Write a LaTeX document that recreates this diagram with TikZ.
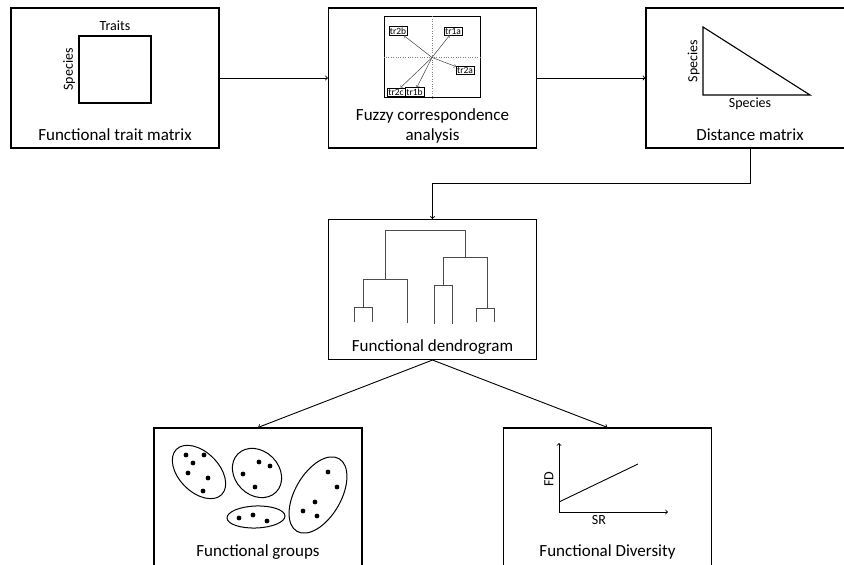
\documentclass[tikz,border=0pt]{standalone}
\usepackage{fontspec}
\setmainfont{Carlito}
\usetikzlibrary{positioning}
\tikzset{
  stage/.style={draw, line width=1.1pt, minimum width=208pt, minimum height=140pt, inner sep=0pt},
  stage text/.style={font=\fontsize{17}{20}\selectfont, align=center, text depth=0.25em, anchor=south},
  small text/.style={font=\fontsize{14}{16}\selectfont, text depth=0.2em},
  tiny label/.style={draw, line width=0.4pt, inner sep=1.1pt, font=\fontsize{9.5}{10}\selectfont, fill=white},
  flow/.style={->, line width=0.9pt},
  fuzzy arrow/.style={->, line width=0.5pt, black!75},
  tree/.style={line width=1pt, black!70},
  group/.style={line width=1pt},
}

\begin{document}
\begin{tikzpicture}[x=1pt,y=1pt]
\useasboundingbox (0,0) rectangle (844,565);
\clip (0,0) rectangle (844,565);
% the boxes
\node [stage] (ftm) at (115,487) {};
\node [stage] (fca) at (432.5,487) {};
\node [stage] (dm) at (750,487) {};
\node [stage] (dend) at (432.5,275.5) {};
\node [stage] (fg) at (258,67) {};
\node [stage] (fdiv) at (607.5,67) {};
% the box texts
\node [stage text] (ftmtxt) at ([yshift=2.5pt]ftm.south) {Functional trait matrix};
\node [stage text] (fcatxt) at ([yshift=2.5pt]fca.south) {Fuzzy correspondence\\analysis};
\node [stage text] (dmtxt) at ([yshift=2.5pt]dm.south) {Distance matrix};
\node [stage text] (dendtxt) at ([yshift=2.5pt]dend.south) {Functional dendrogram};
\node [stage text] (fgtxt) at ([yshift=6.5pt]fg.south) {Functional groups};
\node [stage text] (fdivtxt) at ([yshift=6.5pt]fdiv.south) {Functional Diversity};

% trait matrix
\node [draw, line width=1.1pt, minimum width=72pt, minimum height=67pt] (trmat) at (115,495.5) {};
\node [small text, above=-1pt of trmat] (traits) {Traits};
\node [small text, rotate=90, anchor=south] (trspecies) at (trmat.west) {Species};

% fuzzy correspondence plot
\node [draw, line width=1pt, minimum width=96pt, minimum height=81pt] (fcaplot) at (432,507.5) {};
\draw [dotted, gray] (fcaplot.north) -- (fcaplot.south);
\draw [dotted, gray] (fcaplot.west) -- (fcaplot.east);
\node [tiny label] (tr2b) at (398,534) {tr2b};
\node [tiny label] (tr1a) at (453,534) {tr1a};
\node [tiny label] (tr2a) at (465,495) {tr2a};
\node [tiny label] (tr2c) at (396,473) {tr2c};
\node [tiny label] (tr1b) at (414.5,473) {tr1b};
\foreach \lab in {tr2b,tr1a,tr2a,tr2c,tr1b}
  \draw [fuzzy arrow] (fcaplot.center) -- (\lab);

% distance matrix
\coordinate (dmtop) at (703,538);
\coordinate (dmcorner) at (703,470);
\coordinate (dmright) at (810,470);
\draw [line width=1.1pt] (dmtop) -- (dmcorner) -- (dmright) -- cycle;
\node [small text, rotate=90, anchor=south] (dmspeciesA) at (703,504) {Species};
\node [small text, anchor=north] (dmspeciesB) at (750,471) {Species};

% dendrogram
\draw [tree] (354,243) |- (372,257) -- (372,243);
\draw [tree] (363,257) |- (407,285) -- (407,242);
\draw [tree] (385,285) |- (465,334) -- (465,307);
\draw [tree] (443,279) |- (487,307) -- (487,256);
\draw [tree] (434,241) |- (452,279) -- (452,241);
\draw [tree] (476,243) |- (494,256) -- (494,243);

% functional groups
\draw [group] (199,93) ellipse [x radius=32, y radius=20, rotate=-45];
\draw [group] (257,92) ellipse [x radius=27, y radius=22, rotate=-45];
\draw [group] (256,48) ellipse [x radius=29, y radius=11, rotate=2];
\draw [group] (318,70) ellipse [x radius=42, y radius=23, rotate=60];
\foreach \p in {(186,110),(204,110),(193,102),(188,92),(208,87),(203,74),
                (259,103),(270,99),(243,91),(255,78),
                (239,47),(253,50),(267,44),
                (328,93),(337,78),(315,63),(303,54),(317,49)}
  \fill \p circle (2.4);

% functional diversity plot
\coordinate (fdorigin) at (559,53);
\draw [->, line width=0.9pt] (fdorigin) -- ++(0,69);
\draw [->, line width=0.9pt] (fdorigin) -- ++(109,0);
\draw [line width=0.9pt] (559,63) -- (638,101);
\node [small text, rotate=90, anchor=south] (fdaxis) at (559,86) {FD};
\node [small text, anchor=north] (sraxis) at (599,53) {SR};

%drawings of vectors
\draw [flow] (ftm.east) -- (fca.west);
\draw [flow] (fca.east) -- (dm.west);
\draw [flow] (dm.south) -- ++(0,-35) -| (dend.north);
\draw [flow] (dend.south) -- (fg.north);
\draw [flow] (dend.south) -- (fdiv.north);
\end{tikzpicture}
\end{document}
